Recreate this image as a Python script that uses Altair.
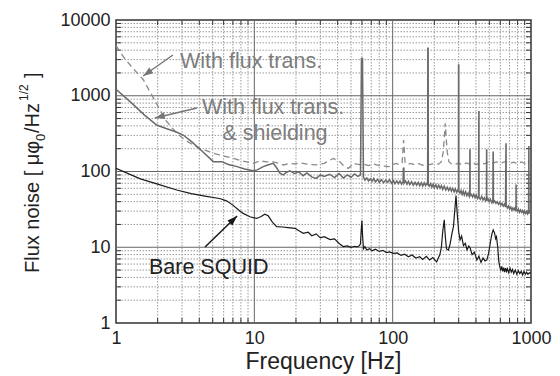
import altair as alt
import pandas as pd

# ---------------- data ----------------
bare_f = [1, 1.5, 2, 2.75, 3.5, 4.5, 5.6, 6.3, 7.0, 7.7,
          8.3, 9.3, 10.4, 11.2, 11.9, 12.6, 13.5, 14.5, 16, 17.5,
          19.7, 21, 22.6, 24.5, 26, 28, 30, 32, 35.3, 38,
          41, 43.9, 47, 50, 53, 55, 57, 58.5, 59.5, 60,
          60.5, 61.5, 63, 65, 68, 71, 75, 80, 85, 90,
          95, 101, 108, 115, 122, 130, 138, 147, 157, 165,
          175, 185, 195, 208, 215, 219, 225, 230, 236, 240,
          245, 253, 260, 268, 275, 280, 287, 292, 300, 307,
          315, 325, 335, 345, 355, 364, 375, 390, 406, 420,
          435, 450, 465, 480, 495, 510, 522, 533, 545, 555,
          563, 575, 585, 595, 605, 615, 625, 635, 645, 655,
          665, 675, 690, 705, 720, 735, 750, 770, 790, 810,
          830, 850, 870, 890, 910, 930, 950, 975, 1000]
bare_v = [110, 80, 68, 57, 51, 47, 44, 41, 36, 31,
          28, 25.3, 24, 25.5, 27.3, 26, 21.5, 18.7, 18.5, 18.2,
          17.8, 16.5, 15.3, 15.8, 14.2, 15, 13.3, 13.8, 12.6, 12.9,
          11.2, 10.2, 10.4, 10.0, 10.3, 10.1, 10.4, 11, 19, 22.5,
          15, 9.5, 10.2, 9.2, 9.6, 9.0, 9.4, 8.8, 9.1, 8.5,
          8.7, 8.3, 8.4, 7.8, 8.1, 7.5, 7.9, 7.2, 7.5, 6.9,
          7.6, 6.8, 7.3, 6.4, 7.4, 7.9, 10, 16, 23, 14,
          9.5, 9.2, 11, 15, 18.7, 28, 48, 30, 16, 12.5,
          14, 10.5, 11.3, 9.2, 10.4, 9.7, 8.0, 8.6, 6.8, 7.6,
          6.3, 7.2, 6.6, 6.8, 8.5, 12, 15, 16.9, 15.5, 13,
          13.8, 10, 6.5, 5.5, 5.0, 5.6, 4.8, 5.4, 4.7, 5.3,
          4.8, 5.2, 4.6, 5.3, 4.7, 5.1, 4.5, 5.0, 4.4, 4.9,
          4.5, 4.8, 4.3, 4.8, 4.4, 4.7, 4.4, 4.6, 4.5]

shield_f = [1, 1.3, 1.6, 1.97, 2.3, 2.7, 3.06, 3.5, 4.2, 5.05,
            5.8, 6.5, 7.5, 8.5, 9.8, 10.5, 11.6, 12.5, 13.7, 14.5,
            15.3, 16.2, 17, 18.1, 19.5, 21, 22.5, 24, 26, 28,
            30, 32, 35, 38, 41, 44, 47, 50, 53, 56,
            58.5, 59.5, 60.5, 61.5, 63, 65, 67, 69, 71, 73,
            75, 78, 80, 83, 86, 89, 92, 95, 98, 101,
            104, 107, 110, 113, 116, 119, 119.5, 120.5, 121, 124,
            127, 130, 133, 137, 141, 145, 149, 153, 157, 161,
            165, 169, 173, 177, 179, 179.5, 180.5, 181, 184, 188,
            192, 196, 200, 205, 210, 215, 220, 225, 230, 236,
            242, 248, 254, 260, 266, 272, 278, 284, 290, 296,
            299, 299.5, 300.5, 301, 306, 312, 318, 324, 330, 337,
            344, 351, 358, 361, 361.5, 362.5, 363, 370, 378, 386,
            394, 402, 410, 418, 419.5, 420.5, 421, 430, 440, 450,
            460, 470, 477, 477.5, 478.5, 479, 488, 498, 508, 520,
            530, 532.5, 533.5, 535, 546, 558, 570, 582, 594, 606,
            618, 630, 642, 654, 659.5, 660.5, 662, 675, 688, 701,
            714, 727, 740, 753, 766, 779, 779.5, 780.5, 782, 796,
            810, 825, 840, 855, 870, 885, 900, 915, 930, 945,
            960, 964.5, 965.5, 967, 980, 1000]
shield_v = [1220, 800, 560, 411, 370, 335, 303, 250, 185, 135,
            135, 124, 116, 108, 102, 105, 116, 122, 128, 112,
            95, 90, 97, 102, 94, 99, 88, 96, 85, 81,
            90, 86, 92, 83, 94, 82, 90, 84, 93, 86,
            90, 3100, 3100, 85, 77, 82, 75, 80, 74, 81,
            73, 79, 72, 78, 71, 77, 72, 78, 70, 76,
            69, 75, 69, 75, 68, 74, 110, 110, 70, 75,
            68, 74, 67, 73, 66, 72, 66, 72, 65, 71,
            64, 71, 65, 70, 68, 4230, 4230, 68, 64, 69,
            62, 68, 61, 67, 60, 66, 60, 65, 58, 64,
            57, 62, 56, 61, 55, 60, 54, 59, 53, 57,
            54, 2550, 2550, 55, 52, 56, 50, 55, 49, 54,
            48, 52, 47, 51, 192, 192, 48, 50, 46, 50,
            45, 49, 44, 47, 617, 617, 45, 43, 47, 42,
            45, 41, 44, 192, 192, 41, 44, 40, 43, 39,
            42, 180, 180, 39, 41, 38, 40, 37, 39, 36,
            38, 35, 37, 34, 230, 230, 36, 33, 35, 32,
            34, 31, 33, 31, 33, 30, 66, 66, 32, 30,
            32, 29, 31, 29, 30.5, 28, 30, 28, 29.5, 27.5,
            29, 213, 213, 28, 29.5, 28]

trans_f = [1, 1.13, 1.3, 1.58, 1.8, 2.08, 2.3, 2.53, 2.8, 3.15,
           3.6, 4.05, 4.5, 5.05, 6, 7.05, 8.2, 9.8, 11, 12.3,
           13.7, 15, 16.2, 18, 19.5, 21.5, 24, 28, 32, 35,
           37.3, 39, 41.6, 44, 47.7, 50, 52, 55, 58, 62,
           67, 72, 76.7, 85, 95.6, 101, 107, 112, 117, 120,
           123, 128, 135, 145, 155, 165, 175, 185, 200, 215,
           225, 232, 237, 240, 243, 248, 255, 265, 280, 300,
           320, 340, 360, 380, 400, 430, 460, 490, 520, 560,
           600, 650, 700, 750, 800, 850, 900, 950, 1000]
trans_v = [4600, 3280, 2400, 1615, 1050, 650, 470, 380, 310, 261,
           225, 202, 188, 174, 160, 149, 138, 128, 138, 134,
           134, 128, 122, 128, 126, 130, 125, 122, 128, 140,
           149, 142, 134, 120, 110, 118, 128, 125, 123, 125,
           120, 126, 122, 118, 116, 124, 128, 122, 130, 260,
           130, 124, 128, 122, 127, 121, 126, 123, 128, 125,
           135, 180, 300, 433, 300, 180, 135, 127, 124, 129,
           122, 130, 125, 131, 124, 130, 126, 133, 127, 134,
           128, 135, 127, 133, 126, 134, 128, 135, 130]

assert len(bare_f) == len(bare_v)
assert len(shield_f) == len(shield_v)
assert len(trans_f) == len(trans_v)

x_major = [10, 100]
y_major = [10, 100, 1000]
x_minor = [m * d for d in (1, 10, 100) for m in range(2, 10)]
y_minor = [m * d for d in (1, 10, 100, 1000) for m in range(2, 10)]
x_labels = [1, 10, 100, 1000]
y_labels = [1, 10, 100, 1000, 10000]

# annotations (data coordinates)
notes = pd.DataFrame({
    "f": [2.9, 13.65, 14.1, 1.73],
    "v": [2790, 689, 313, 5.32],
    "text": ["With flux trans.", "With flux trans.", "& shielding", "Bare SQUID"],
    "align": ["left", "center", "center", "left"],
    "color": ["#7d7d7d", "#7d7d7d", "#7d7d7d", "#222222"],
})
arrows = pd.DataFrame({
    "f1": [2.58, 3.85, 4.4], "v1": [3450, 689, 10.1],
    "f2": [1.57, 1.91, 7.5], "v2": [1823, 508, 25.9],
    "ang": [235, 256.6, 45.9],
    "color": ["#777777", "#777777", "#1a1a1a"],
})

# y-axis title pieces (rotated text, subscript/superscript)
yt_text = ["Flux noise [ \u03bc\u03c6", "0", "/Hz", "1/2", "]"]
yt_px = [-83, -75, -83, -92, -83]
yt_py = [253, 121, 113, 81, 58]
yt_fs = [20, 13, 20, 12, 20]

W, H = 415, 303
FONT = "Liberation Sans"
xs = alt.Scale(type="log", domain=[1, 1000], nice=False)
ys = alt.Scale(type="log", domain=[1, 10000], nice=False)
ax_x = alt.Axis(values=x_labels, format="d", grid=False, ticks=False, domain=False,
                labelFontSize=18, labelFont=FONT, labelColor="#222", labelPadding=6,
                labelFlush=False, labelOverlap=False, title=None)
ax_y = alt.Axis(values=y_labels, format="d", grid=False, ticks=False, domain=False,
                labelFontSize=18, labelFont=FONT, labelColor="#222", labelPadding=6,
                labelFlush=False, labelOverlap=False, title=None)

def X(field):
    return alt.X(field, type="quantitative", scale=xs, axis=ax_x)

def Y(field):
    return alt.Y(field, type="quantitative", scale=ys, axis=ax_y)

layers = []
# grid
layers.append(alt.Chart(pd.DataFrame({"x": x_minor})).mark_rule(
    color="#9a9a9a", strokeWidth=1, strokeDash=[1.5, 1.5]).encode(x=X("x")))
layers.append(alt.Chart(pd.DataFrame({"y": y_minor})).mark_rule(
    color="#9a9a9a", strokeWidth=1, strokeDash=[1.5, 1.5]).encode(y=Y("y")))
layers.append(alt.Chart(pd.DataFrame({"x": x_major})).mark_rule(
    color="#666", strokeWidth=1).encode(x=X("x")))
layers.append(alt.Chart(pd.DataFrame({"y": y_major})).mark_rule(
    color="#666", strokeWidth=1).encode(y=Y("y")))
# inward ticks
xt = pd.DataFrame({"x": x_minor})
yt = pd.DataFrame({"y": y_minor})
layers.append(alt.Chart(xt).mark_rule(color="#333").encode(
    x=X("x"), y=alt.value(H), y2=alt.value(H - 5)))
layers.append(alt.Chart(xt).mark_rule(color="#333").encode(
    x=X("x"), y=alt.value(0), y2=alt.value(5)))
layers.append(alt.Chart(yt).mark_rule(color="#333").encode(
    y=Y("y"), x=alt.value(0), x2=alt.value(5)))
layers.append(alt.Chart(yt).mark_rule(color="#333").encode(
    y=Y("y"), x=alt.value(W), x2=alt.value(W - 5)))

# series
layers.append(alt.Chart(pd.DataFrame({"f": trans_f, "v": trans_v})).mark_line(
    color="#8a8a8a", strokeWidth=1.3, strokeDash=[6, 4], clip=True).encode(
    x=X("f"), y=Y("v"), order="f:Q"))
layers.append(alt.Chart(pd.DataFrame({"f": shield_f, "v": shield_v})).mark_line(
    color="#6a6a6a", strokeWidth=1.5, clip=True).encode(
    x=X("f"), y=Y("v"), order="f:Q"))
layers.append(alt.Chart(pd.DataFrame({"f": bare_f, "v": bare_v})).mark_line(
    color="#1a1a1a", strokeWidth=1.2, clip=True).encode(
    x=X("f"), y=Y("v"), order="f:Q"))

# arrows
layers.append(alt.Chart(arrows).mark_rule(strokeWidth=1.5).encode(
    x=X("f1"), y=Y("v1"), x2="f2:Q", y2="v2:Q",
    color=alt.Color("color:N", scale=None)))
layers.append(alt.Chart(arrows).mark_point(
    shape="M0,0 L-0.7,2 L0.7,2 Z", filled=True, size=100, opacity=1).encode(
    x=X("f2"), y=Y("v2"), angle=alt.Angle("ang:Q", scale=None),
    color=alt.Color("color:N", scale=None)))

# annotation texts
for al in ["left", "center"]:
    layers.append(alt.Chart(notes[notes["align"] == al]).mark_text(
        align=al, baseline="middle", fontSize=21.5, font=FONT).encode(
        x=X("f"), y=Y("v"), text="text:N", color=alt.Color("color:N", scale=None)))

# axis titles
layers.append(alt.Chart(pd.DataFrame({"t": ["Frequency [Hz]"]})).mark_text(
    align="center", baseline="middle", fontSize=23, font=FONT, color="#222").encode(
    x=alt.value(W / 2), y=alt.value(342), text="t:N"))
for t, px, py, fs in zip(yt_text, yt_px, yt_py, yt_fs):
    layers.append(alt.Chart(pd.DataFrame({"t": [t]})).mark_text(
        align="left", baseline="middle", angle=270, font=FONT, color="#222",
        fontSize=fs).encode(x=alt.value(px), y=alt.value(py), text="t:N"))

chart = alt.layer(*layers).properties(
    width=W, height=H,
    autosize=alt.AutoSizeParams(type="none"),
    padding={"left": 116, "top": 20, "right": 29, "bottom": 53},
    background="white",
).configure_view(stroke="#333", strokeWidth=1.5)

chart.save("out.html", embed_options={"renderer": "svg", "actions": False})
